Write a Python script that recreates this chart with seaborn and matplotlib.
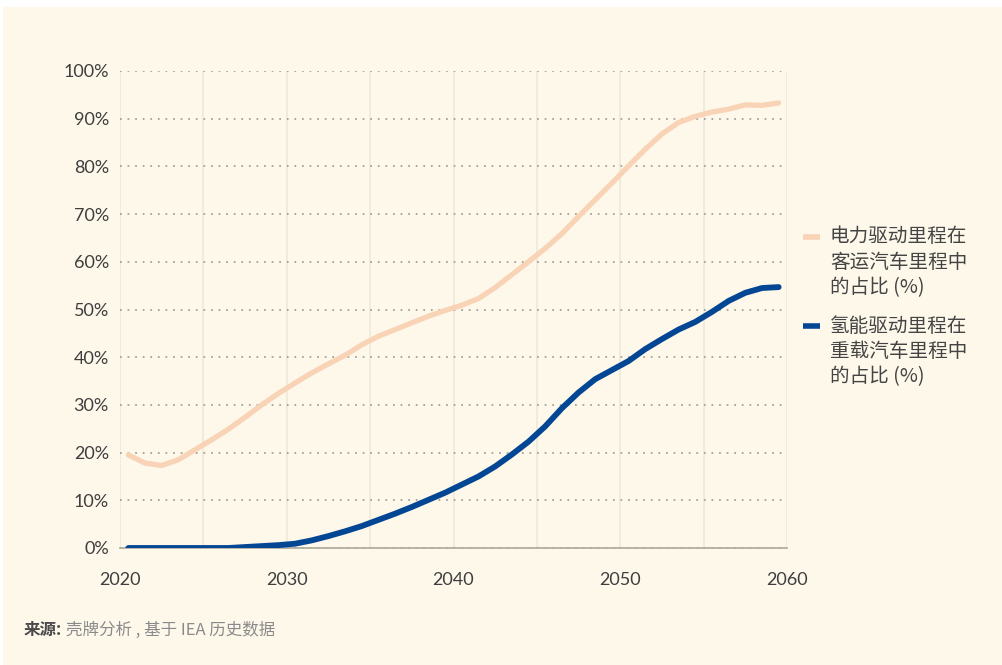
import numpy as np
import pandas as pd
import matplotlib
matplotlib.use("Agg")
import matplotlib.pyplot as plt
from matplotlib.lines import Line2D
from matplotlib.patches import Rectangle
import seaborn as sns

# ---------------- data ----------------
years = [y + 0.5 for y in range(2020, 2060)]
electric_share = [19.5, 17.8, 17.3, 18.5, 20.6, 22.7, 24.9, 27.4, 30.0, 32.4,
                  34.6, 36.7, 38.6, 40.4, 42.6, 44.4, 45.8, 47.2, 48.6, 49.8,
                  50.9, 52.3, 54.6, 57.3, 60.0, 62.8, 65.9, 69.5, 73.0, 76.5,
                  80.1, 83.6, 86.8, 89.2, 90.5, 91.4, 92.0, 92.9, 92.8, 93.3]
hydrogen_share = [0, 0, 0, 0, 0, 0, 0, 0.2, 0.4, 0.6,
                  0.9, 1.6, 2.5, 3.5, 4.6, 5.9, 7.2, 8.6, 10.1, 11.6,
                  13.3, 15.0, 17.1, 19.6, 22.3, 25.5, 29.3, 32.6, 35.4, 37.3,
                  39.2, 41.7, 43.8, 45.8, 47.4, 49.5, 51.8, 53.5, 54.5, 54.7]
series_names = ["电力驱动里程在\n客运汽车里程中\n的占比 (%)",
                "氢能驱动里程在\n重载汽车里程中\n的占比 (%)"]
x_ticks = [2020, 2030, 2040, 2050, 2060]
y_ticks = list(range(0, 101, 10))
y_tick_labels = [f"{v}%" for v in y_ticks]
source_bold = "来源:"
source_text = "壳牌分析 , 基于 IEA 历史数据"

colors = ["#F9D3B6", "#034694"]
bg = "#FEF8EB"

df = pd.DataFrame({
    "year": years * 2,
    "share": electric_share + hydrogen_share,
    "series": [series_names[0]] * len(years) + [series_names[1]] * len(years),
})

# ---------------- figure ----------------
sns.set_theme(style="white")
plt.rcParams["font.family"] = ["Lato", "Noto Sans CJK SC", "DejaVu Sans"]

W, H = 1003, 665
fig = plt.figure(figsize=(W / 100, H / 100), dpi=100)
fig.patch.set_facecolor("white")
fig.add_artist(Rectangle((3 / W, 0), 1, (H - 7) / H, transform=fig.transFigure,
                         facecolor=bg, edgecolor="none", zorder=-10))

ax = fig.add_axes([120 / W, 1 - 548 / H, (787 - 120) / W, (548 - 71) / H])
ax.set_facecolor("none")

sns.lineplot(data=df, x="year", y="share", hue="series", palette=colors,
             ax=ax, legend=False, linewidth=3.6, solid_capstyle="round")
ax.lines[1].set_linewidth(4.2)
ax.lines[0].set_linewidth(3.8)
ax.lines[1].set_zorder(4)

ax.set_xlim(2020, 2060)
ax.set_ylim(0, 100)
ax.set_xticks(list(range(2020, 2061, 5)))
ax.set_xticklabels([str(t) if t in x_ticks else "" for t in range(2020, 2061, 5)])
ax.set_yticks(y_ticks)
ax.set_yticklabels(y_tick_labels)
ax.set_xlabel("")
ax.set_ylabel("")

ax.tick_params(axis="both", length=0, labelsize=13, labelcolor="#3E3E3E")
ax.tick_params(axis="y", pad=8)
ax.tick_params(axis="x", pad=17)

ax.xaxis.grid(True, color="#EEE9DB", linewidth=1.2, linestyle="-")
ax.yaxis.grid(True, color="#A9A79E", linewidth=1.4, linestyle=(0, (0.9, 3.0)))
ax.set_axisbelow(True)

for s in ["left", "right", "top"]:
    ax.spines[s].set_visible(False)
ax.spines["bottom"].set_color("#A9A89B")
ax.spines["bottom"].set_linewidth(1.2)

# ---------------- legend (manual) ----------------
def fx(px):
    return px / W

def fy(py):
    return 1 - py / H

legend_rows = [237, 326]
for name, col, y0 in zip(series_names, colors, legend_rows):
    fig.add_artist(Line2D([fx(803), fx(820)], [fy(y0), fy(y0)],
                          transform=fig.transFigure, color=col,
                          linewidth=4.0, solid_capstyle="butt"))
    for i, line in enumerate(name.split("\n")):
        fig.text(fx(830), fy(y0 + i * 25.3), line, ha="left", va="center",
                 fontsize=14.1, color="#444444",
                 family=["Noto Sans CJK SC", "DejaVu Sans"])

# ---------------- source ----------------
t = fig.text(fx(24), fy(630), source_bold, ha="left", va="center",
             fontsize=11.9, color="#4A4A4A", fontweight="bold",
             family=["Noto Sans CJK SC", "DejaVu Sans"])
fig.canvas.draw()
bb = t.get_window_extent()
fig.text((bb.x1 + 4) / W, fy(630), source_text, ha="left", va="center",
         fontsize=11.9, color="#8A8A8A",
         family=["Noto Sans CJK SC", "DejaVu Sans"])

fig.savefig("out.png", dpi=100, facecolor=fig.get_facecolor())
